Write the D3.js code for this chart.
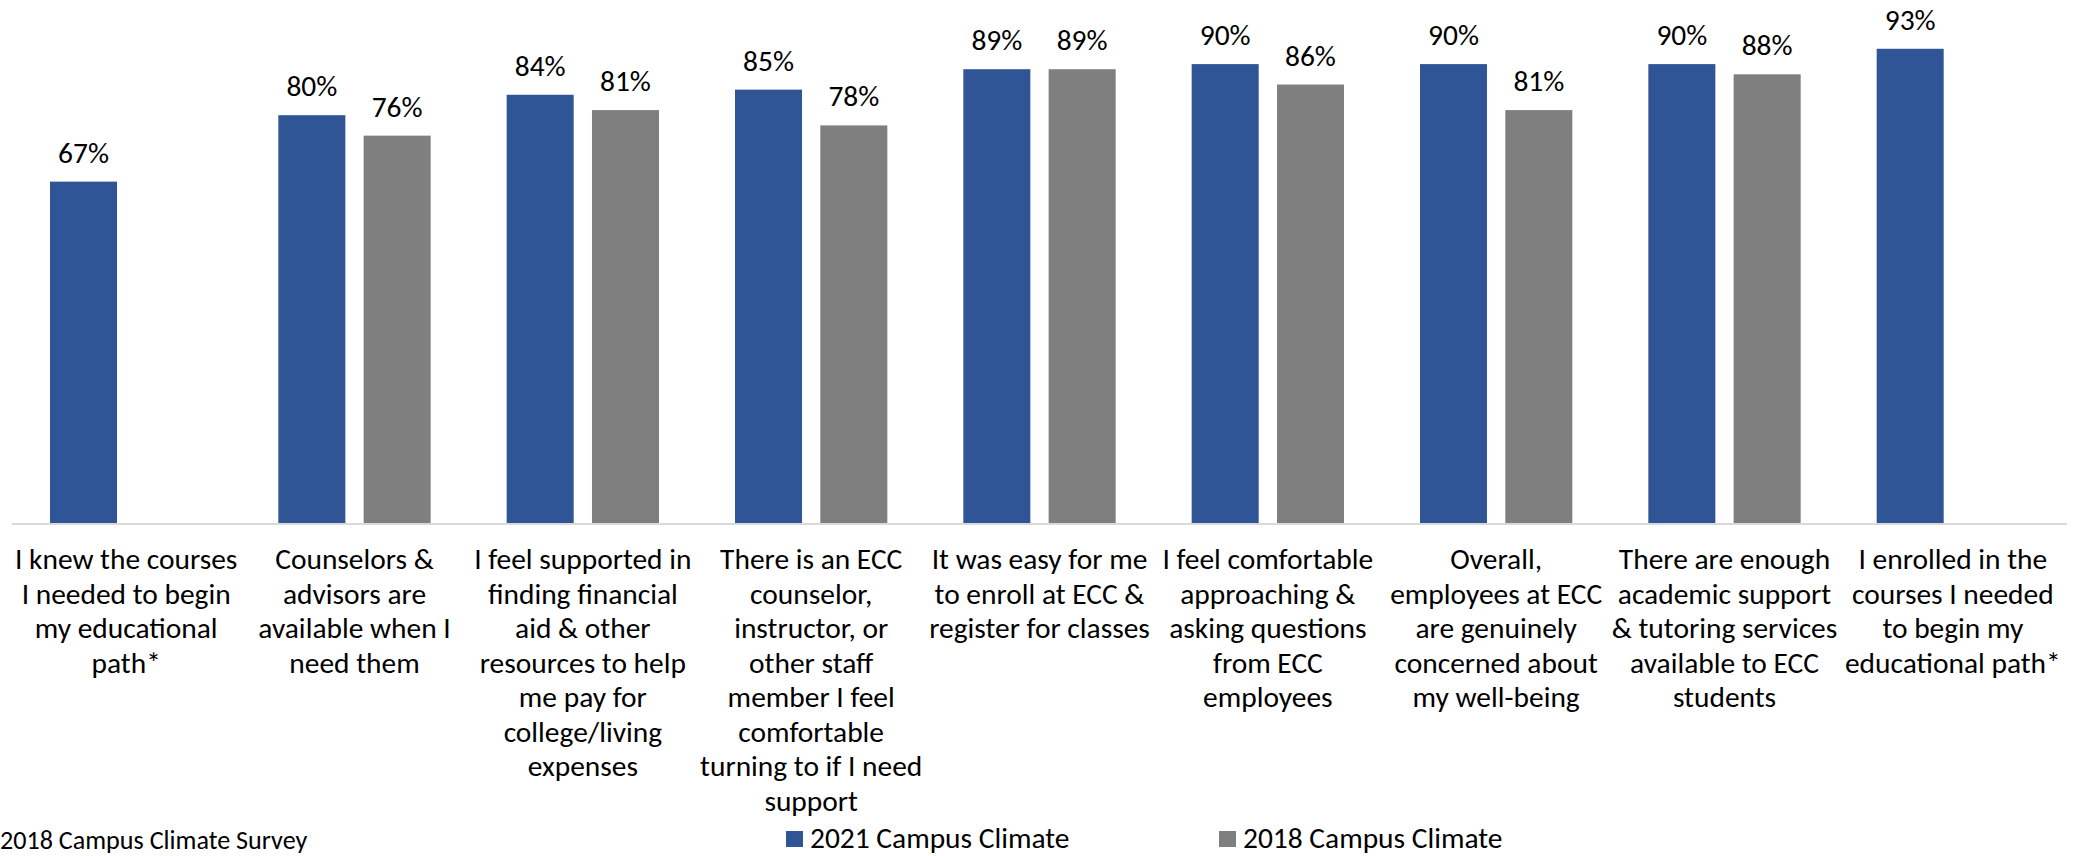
<!DOCTYPE html>
<html>
<head>
<meta charset="utf-8">
<script src="https://cdn.jsdelivr.net/npm/d3@7"></script>
<style>
  html, body { margin: 0; padding: 0; background: #ffffff; overflow: hidden; }
  svg { display: block; }
  text { font-family: Carlito, Calibri, Lato, "Open Sans", sans-serif; fill: #000; }
</style>
</head>
<body>
<svg id="chart" width="2082" height="856"></svg>
<script>
// Survey statements (one entry per wrapped line)
const categories = [
  ["I knew the courses", "I needed to begin", "my educational", "path*"],
  ["Counselors &", "advisors are", "available when I", "need them"],
  ["I feel supported in", "finding financial", "aid & other", "resources to help", "me pay for", "college/living", "expenses"],
  ["There is an ECC", "counselor,", "instructor, or", "other staff", "member I feel", "comfortable", "turning to if I need", "support"],
  ["It was easy for me", "to enroll at ECC &", "register for classes"],
  ["I feel comfortable", "approaching &", "asking questions", "from ECC", "employees"],
  ["Overall,", "employees at ECC", "are genuinely", "concerned about", "my well-being"],
  ["There are enough", "academic support", "& tutoring services", "available to ECC", "students"],
  ["I enrolled in the", "courses I needed", "to begin my", "educational path*"]
];

const seriesNames = ["2021 Campus Climate", "2018 Campus Climate"];
const seriesColors = ["#2F5597", "#7F7F7F"];

// Percent agreeing; null = not asked that year
const values2021 = [67, 80, 84, 85, 89, 90, 90, 90, 93];
const values2018 = [null, 76, 81, 78, 89, 86, 81, 88, null];

const footnote = "2018 Campus Climate Survey";

const svg = d3.select("#chart");

// Size text so it runs at Calibri-like widths whichever fallback face is used
const probe = svg.append("text").attr("font-size", 29.33).text("I knew the courses");
const probeW = probe.node().getComputedTextLength();
probe.remove();
const fit = probeW > 0 ? Math.min(1.05, Math.max(0.8, 222.5 / probeW)) : 1;
const fs = 29.33 * fit;

const plot = { left: 12, right: 2067, top: 13, bottom: 524 };

const x0 = d3.scaleBand()
  .domain(d3.range(categories.length))
  .range([plot.left, plot.right])
  .paddingInner(0).paddingOuter(0);

const x1 = d3.scaleBand()
  .domain([0, 1])
  .range([0, x0.bandwidth()])
  .paddingInner(0.2145)
  .paddingOuter(0.4454);

const y = d3.scaleLinear().domain([0, 100]).range([plot.bottom, plot.top]);

const rows = [];
categories.forEach((c, i) => {
  [values2021[i], values2018[i]].forEach((v, s) => {
    if (v != null) rows.push({ i, s, v });
  });
});

// Bars
svg.append("g").selectAll("rect")
  .data(rows)
  .join("rect")
  .attr("x", d => x0(d.i) + x1(d.s))
  .attr("y", d => y(d.v))
  .attr("width", x1.bandwidth())
  .attr("height", d => y(0) - y(d.v))
  .attr("fill", d => seriesColors[d.s]);

// Value labels
svg.append("g").selectAll("text")
  .data(rows)
  .join("text")
  .attr("x", d => x0(d.i) + x1(d.s) + x1.bandwidth() / 2)
  .attr("y", d => y(d.v) - 19)
  .attr("text-anchor", "middle")
  .attr("font-size", fs)
  .text(d => d.v + "%");

// Category axis line
svg.append("line")
  .attr("x1", plot.left).attr("x2", plot.right)
  .attr("y1", y(0)).attr("y2", y(0))
  .attr("stroke", "#D9D9D9").attr("stroke-width", 2);

// Category labels
const lineH = 34.5;
const labelG = svg.append("g").selectAll("text")
  .data(categories)
  .join("text")
  .attr("text-anchor", "middle")
  .attr("font-size", fs)
  .attr("transform", (d, i) => `translate(${x0(i) + x0.bandwidth() / 2},${y(0) + 45})`);
labelG.selectAll("tspan")
  .data(d => d)
  .join("tspan")
  .attr("x", 0)
  .attr("y", (d, k) => k * lineH)
  .text(d => d);

// Legend
const legendX = [786, 1219];
const legend = svg.append("g").selectAll("g")
  .data(seriesNames)
  .join("g")
  .attr("transform", (d, s) => `translate(${legendX[s]},0)`);
legend.append("rect")
  .attr("x", 0).attr("y", 831)
  .attr("width", 17).attr("height", 16)
  .attr("fill", (d, s) => seriesColors[s]);
legend.append("text")
  .attr("x", 24).attr("y", 848)
  .attr("font-size", fs)
  .text(d => d);

// Footnote
svg.append("text")
  .attr("x", 0).attr("y", 849)
  .attr("font-size", 26 * fit)
  .text(footnote);
</script>
</body>
</html>
